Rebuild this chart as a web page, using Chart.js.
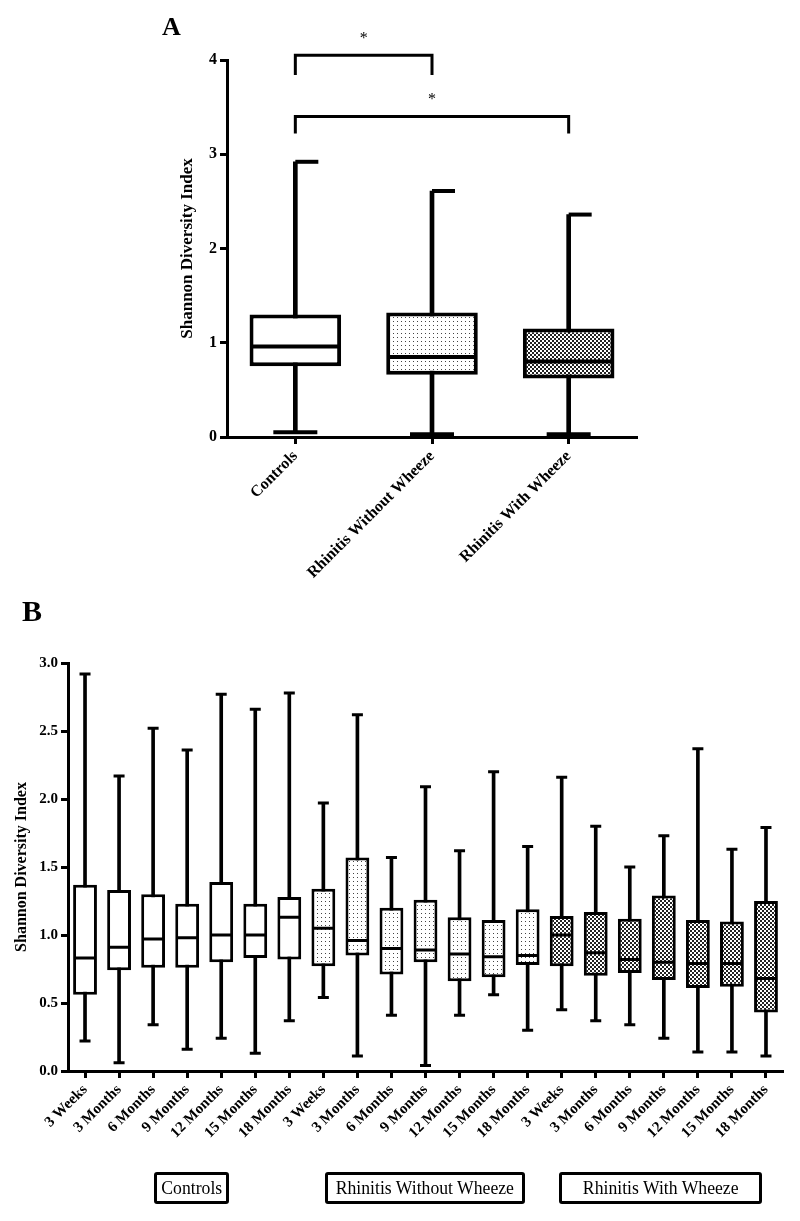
<!DOCTYPE html>
<html>
<head>
<meta charset="utf-8">
<script src="https://cdn.jsdelivr.net/npm/chart.js@4.4.0/dist/chart.umd.min.js"></script>
<style>
  body { margin: 0; background: #fff; }
  #page { position: relative; width: 800px; height: 1221px; overflow: hidden; font-family: "Liberation Serif", "Times New Roman", serif; }
  canvas { position: absolute; left: 0; }
  #chartA { top: 0; }
  #chartB { top: 580px; }
  .panel { position: absolute; font-weight: bold; line-height: 1; }
  .key { position: absolute; border: 3px solid #000; border-radius: 3px; box-sizing: border-box; height: 32px; font-size: 19px; line-height: 26px; text-align: center; white-space: nowrap; }
  .key span { display: inline-block; transform: scaleX(0.93); }
</style>
</head>
<body>
<div id="page">
  <canvas id="chartA" width="800" height="580"></canvas>
  <canvas id="chartB" width="800" height="641"></canvas>
  <div class="panel" style="left:162px;top:14px;font-size:26px;">A</div>
  <div class="panel" style="left:22px;top:596px;font-size:30px;">B</div>
  <div class="key" style="left:154px;top:1172px;width:75px;"><span>Controls</span></div>
  <div class="key" style="left:325px;top:1172px;width:200px;"><span>Rhinitis Without Wheeze</span></div>
  <div class="key" style="left:559px;top:1172px;width:203px;"><span>Rhinitis With Wheeze</span></div>
</div>
<script>
// panel A: whole groups
const groupLabels = ["Controls", "Rhinitis Without Wheeze", "Rhinitis With Wheeze"];
const groupMin = [0.05, 0.03, 0.03];
const groupQ1 = [0.75, 0.66, 0.62];
const groupMedian = [0.96, 0.85, 0.80];
const groupQ3 = [1.30, 1.32, 1.15];
const groupMax = [2.92, 2.61, 2.36];
const yTicksA = [0, 1, 2, 3, 4];

// significance brackets (group index pairs)
const sigFrom = [0, 0];
const sigTo = [1, 2];
const sigBarY = [4.05, 3.40];
const sigLegY = [3.84, 3.22];
const sigStarY = [4.22, 3.58];

// panel B: by time point
const timePoints = ["3 Weeks", "3 Months", "6 Months", "9 Months", "12 Months", "15 Months", "18 Months"];
const timeLabels = timePoints.concat(timePoints, timePoints);
const timeGroup = [0, 0, 0, 0, 0, 0, 0, 1, 1, 1, 1, 1, 1, 1, 2, 2, 2, 2, 2, 2, 2];
const timeMin = [0.22, 0.06, 0.34, 0.16, 0.24, 0.13, 0.37, 0.54, 0.11, 0.41, 0.04, 0.41, 0.56, 0.30, 0.45, 0.37, 0.34, 0.24, 0.14, 0.14, 0.11];
const timeQ1 = [0.56, 0.74, 0.76, 0.76, 0.80, 0.83, 0.82, 0.77, 0.85, 0.71, 0.80, 0.66, 0.69, 0.78, 0.77, 0.70, 0.72, 0.67, 0.61, 0.62, 0.43];
const timeMedian = [0.83, 0.91, 0.97, 0.98, 1.00, 1.00, 1.13, 1.05, 0.96, 0.90, 0.89, 0.86, 0.84, 0.85, 1.00, 0.87, 0.82, 0.80, 0.79, 0.79, 0.68];
const timeQ3 = [1.37, 1.33, 1.30, 1.23, 1.39, 1.23, 1.28, 1.34, 1.57, 1.20, 1.26, 1.13, 1.11, 1.19, 1.14, 1.17, 1.12, 1.29, 1.11, 1.10, 1.25];
const timeMax = [2.92, 2.17, 2.52, 2.36, 2.77, 2.66, 2.78, 1.97, 2.62, 1.57, 2.09, 1.62, 2.20, 1.65, 2.16, 1.80, 1.50, 1.73, 2.37, 1.63, 1.79];
const yTicksB = [0, 0.5, 1.0, 1.5, 2.0, 2.5, 3.0];

const serif = "'Liberation Serif', 'Times New Roman', serif";

function dotPattern() {
  let c = document.createElement("canvas");
  c.width = 4; c.height = 4;
  let g = c.getContext("2d");
  g.fillStyle = "#fff"; g.fillRect(0, 0, 4, 4);
  g.fillStyle = "#444"; g.fillRect(1, 1, 1, 1);
  return g.createPattern(c, "repeat");
}

function checkPattern() {
  let c = document.createElement("canvas");
  c.width = 4; c.height = 4;
  let g = c.getContext("2d");
  g.fillStyle = "#fff"; g.fillRect(0, 0, 4, 4);
  g.fillStyle = "#222"; g.fillRect(0, 0, 2, 2); g.fillRect(2, 2, 2, 2);
  return g.createPattern(c, "repeat");
}

const fills = ["#fff", dotPattern(), checkPattern()];

function boxDatasets(mins, q1s, medians, q3s, maxs, groups, s) {
  return [
    {
      type: "bar", data: mins.map((v, i) => [v, maxs[i]]),
      backgroundColor: "#000", barThickness: s.line, grouped: false, order: 5,
    },
    {
      type: "bar", data: q1s.map((v, i) => [v, q3s[i]]),
      backgroundColor: groups.map((g) => fills[g]),
      borderColor: "#000", borderWidth: s.line, borderSkipped: false,
      barPercentage: s.boxPct, categoryPercentage: 1, grouped: false, order: 4,
    },
    {
      type: "line", data: medians, showLine: false, pointStyle: "line",
      pointRadius: s.median, pointBorderWidth: s.line, pointBorderColor: "#000", order: 1,
    },
    {
      type: "line", data: maxs, showLine: false, pointStyle: s.topCapStyle,
      pointRadius: s.topCap, pointBorderWidth: s.line, pointBorderColor: "#000", order: 1,
    },
    {
      type: "line", data: mins, showLine: false, pointStyle: "line",
      pointRadius: s.lowCap, pointBorderWidth: s.line, pointBorderColor: "#000", order: 1,
    },
  ];
}

function axisOptions(tickFont, fitSize, isY) {
  return {
    afterFit: (scale) => {
      if (isY) scale.width = fitSize; else scale.height = fitSize;
    },
    ticks: { color: "#000", font: { family: serif, size: tickFont, weight: "bold" } },
    grid: { drawOnChartArea: false, drawTicks: true, tickLength: 7, tickWidth: 3, color: "#000" },
    border: { display: true, width: 3, color: "#000" },
  };
}

const sigStars = {
  id: "sigStars",
  afterDatasetsDraw(chart) {
    let xs = chart.scales.x, ys = chart.scales.y, ctx = chart.ctx;
    ctx.save();
    ctx.font = "16px " + serif;
    ctx.fillStyle = "#000";
    ctx.textAlign = "center";
    ctx.textBaseline = "middle";
    sigFrom.forEach((f, i) => {
      let px = (xs.getPixelForValue(f) + xs.getPixelForValue(sigTo[i])) / 2;
      ctx.fillText("*", px, ys.getPixelForValue(sigStarY[i]));
    });
    ctx.restore();
  },
};

function buildChartA() {
  let datasets = boxDatasets(groupMin, groupQ1, groupMedian, groupQ3, groupMax, [0, 1, 2], {
    line: 4, boxPct: 0.67, median: 44, topCap: 23, topCapStyle: "dash", lowCap: 22,
  });
  sigFrom.forEach((f, i) => {
    datasets.push({
      type: "line",
      data: [
        { x: groupLabels[f], y: sigLegY[i] },
        { x: groupLabels[f], y: sigBarY[i] },
        { x: groupLabels[sigTo[i]], y: sigBarY[i] },
        { x: groupLabels[sigTo[i]], y: sigLegY[i] },
      ],
      borderColor: "#000", borderWidth: 3, pointRadius: 0, clip: false, order: 0,
    });
  });

  let x = axisOptions(16, 143, false);
  x.grid.offset = false;
  x.ticks.autoSkip = false;
  x.ticks.minRotation = 45;
  x.ticks.maxRotation = 45;

  let y = axisOptions(16, 52, true);
  y.min = yTicksA[0];
  y.max = yTicksA[yTicksA.length - 1];
  y.ticks.stepSize = yTicksA[1] - yTicksA[0];
  y.title = { display: true, text: "Shannon Diversity Index", color: "#000", padding: 2,
    font: { family: serif, size: 17, weight: "bold" } };

  new Chart(document.getElementById("chartA").getContext("2d"), {
    type: "bar",
    data: { labels: groupLabels, datasets: datasets },
    options: {
      responsive: false, animation: false, devicePixelRatio: 1,
      layout: { padding: { left: 175, right: 163, top: 60, bottom: 0 } },
      plugins: { legend: { display: false }, tooltip: { enabled: false } },
      scales: { x: x, y: y },
    },
    plugins: [sigStars],
  });
}

function buildChartB() {
  let datasets = boxDatasets(timeMin, timeQ1, timeMedian, timeQ3, timeMax, timeGroup, {
    line: 3, boxPct: 0.7, median: 10.5, topCap: 5.5, topCapStyle: "line", lowCap: 5.5,
  });

  let x = axisOptions(15, 150, false);
  x.grid.offset = false;
  x.ticks.autoSkip = false;
  x.ticks.minRotation = 45;
  x.ticks.maxRotation = 45;

  let y = axisOptions(15, 58, true);
  y.min = yTicksB[0];
  y.max = yTicksB[yTicksB.length - 1];
  y.ticks.stepSize = yTicksB[1] - yTicksB[0];
  y.ticks.callback = (v) => Number(v).toFixed(1);
  y.title = { display: true, text: "Shannon Diversity Index", color: "#000", padding: 2,
    font: { family: serif, size: 16, weight: "bold" } };

  new Chart(document.getElementById("chartB").getContext("2d"), {
    type: "bar",
    data: { labels: timeLabels, datasets: datasets },
    options: {
      responsive: false, animation: false, devicePixelRatio: 1,
      layout: { padding: { left: 10, right: 17, top: 83, bottom: 0 } },
      plugins: { legend: { display: false }, tooltip: { enabled: false } },
      scales: { x: x, y: y },
    },
  });
}

buildChartA();
buildChartB();
</script>
</body>
</html>
